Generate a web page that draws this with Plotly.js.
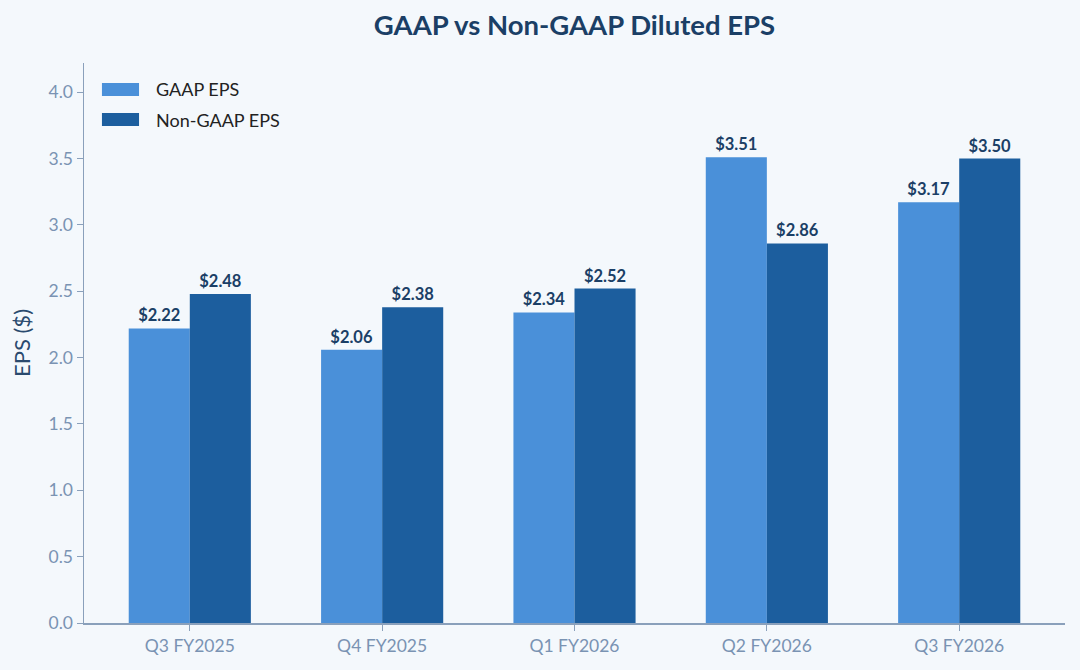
<!DOCTYPE html>
<html>
<head>
<meta charset="utf-8">
<script src="https://cdn.plot.ly/plotly-3.0.1.min.js"></script>
<style>
  html, body { margin: 0; padding: 0; background: #f4f8fc; }
  #chart { width: 1080px; height: 670px; }
</style>
</head>
<body>
<div id="chart"></div>
<script>
const quarters = ["Q3 FY2025", "Q4 FY2025", "Q1 FY2026", "Q2 FY2026", "Q3 FY2026"];
const gaapEps = [2.22, 2.06, 2.34, 3.51, 3.17];
const nonGaapEps = [2.48, 2.38, 2.52, 2.86, 3.50];
const seriesNames = ["GAAP EPS", "Non-GAAP EPS"];
const seriesColors = ["#4a90d9", "#1c5e9e"];

const fontFamily = 'Lato, "Noto Sans", sans-serif';

function makeTrace(name, values, color) {
  return {
    type: 'bar',
    name: name,
    x: quarters,
    y: values,
    text: values.map(v => '$' + v.toFixed(2)),
    textposition: 'outside',
    cliponaxis: false,
    textfont: { family: fontFamily, size: 16.5, color: '#1b3f66', weight: 'bold' },
    marker: { color: color, line: { width: 0 } },
    showlegend: false
  };
}

const data = [
  makeTrace(seriesNames[0], gaapEps, seriesColors[0]),
  makeTrace(seriesNames[1], nonGaapEps, seriesColors[1])
];

// Custom legend: wide swatches like the original (plotly's are small squares).
const shapes = [];
const annotations = [];
seriesNames.forEach((name, i) => {
  const top = 0.9643 - i * 0.0536;
  shapes.push({
    type: 'rect', xref: 'paper', yref: 'paper',
    x0: 0.0183, x1: 0.0561, y0: top - 0.0232, y1: top,
    fillcolor: seriesColors[i], line: { width: 0 }
  });
  annotations.push({
    xref: 'paper', yref: 'paper', x: 0.0714, y: top - 0.0116,
    xanchor: 'left', yanchor: 'middle', showarrow: false,
    text: name,
    font: { family: fontFamily, size: 18, color: '#222222' }
  });
});

const layout = {
  width: 1080,
  height: 670,
  paper_bgcolor: '#f4f8fc',
  plot_bgcolor: '#f4f8fc',
  margin: { l: 84, r: 15, t: 63, b: 47 },
  barmode: 'group',
  bargap: 0.365,
  bargroupgap: 0,
  font: { family: fontFamily, color: '#7a93b3' },
  title: {
    text: '<b>GAAP vs Non-GAAP Diluted EPS</b>',
    xref: 'paper', x: 0.5, xanchor: 'center', y: 0.962, yanchor: 'middle',
    font: { family: fontFamily, size: 27.5, color: '#1b3f66' }
  },
  xaxis: {
    range: [-0.55, 4.55],
    showline: true, linecolor: '#8aa0bb', linewidth: 1.5,
    ticks: 'outside', ticklen: 6, tickcolor: '#8aa0bb',
    showgrid: false, zeroline: false,
    tickfont: { family: fontFamily, size: 17.5, color: '#7a93b3' }
  },
  yaxis: {
    range: [0, 4.22],
    dtick: 0.5, tickformat: '.1f',
    showline: true, linecolor: '#8aa0bb', linewidth: 1.5,
    ticks: 'outside', ticklen: 6, tickcolor: '#8aa0bb',
    showgrid: false, zeroline: false,
    tickfont: { family: fontFamily, size: 17.5, color: '#7a93b3' },
    title: { text: 'EPS ($)', standoff: 12, font: { family: fontFamily, size: 22, color: '#2a4a6e' } }
  },
  shapes: shapes,
  annotations: annotations,
  showlegend: false
};

Plotly.newPlot('chart', data, layout, { displayModeBar: false, staticPlot: true });
</script>
</body>
</html>
